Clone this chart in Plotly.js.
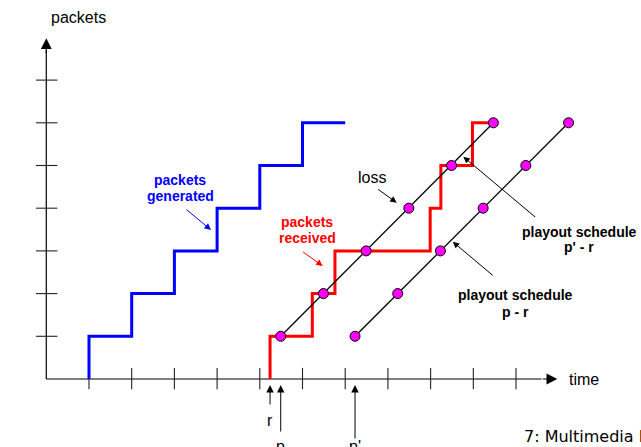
<!DOCTYPE html>
<html><head><meta charset="utf-8">
<script src="https://cdn.plot.ly/plotly-3.0.1.min.js"></script>
<style>html,body{margin:0;padding:0;background:#fff;overflow:hidden}#chart{width:641px;height:447px}</style>
</head><body><div id="chart"></div>
<script>
// ---- data ----
const packetCounts = [0, 1, 2, 3, 4, 5, 6];
const genTimes = [1, 2, 3, 4, 5, 6, 7];
const recvTimes = [5.24, 6.23, 6.76, 8.99, 9.24, 9.98, 10.47];
const playoutPackets = [1, 2, 3, 4, 5, 6];
const playoutP = [5.49, 6.49, 7.49, 8.49, 9.49, 10.47];
const playoutP2 = [7.23, 8.23, 9.23, 10.23, 11.23, 12.23];
const xTickVals = [1, 2, 3, 4, 5, 6, 7, 8, 9, 10, 11];
const yTickVals = [1, 2, 3, 4, 5, 6, 7];

// ---- helpers ----
const W = 641, H = 447;
const PX = v => v / W;
const PY = v => 1 - v / H;
const FONT = 'Liberation Sans, Arial, sans-serif';

const xt = {x: [], y: []};
xTickVals.forEach(v => { xt.x.push(v, v, null); xt.y.push(-0.24, 0.26, null); });
const yt = {x: [], y: []};
yTickVals.forEach(v => { yt.x.push(-0.24, 0.26, null); yt.y.push(v, v, null); });

const traces = [
  {x: [0, 11.6], y: [0, 0], mode: 'lines', line: {color: '#555', width: 1.4}, hoverinfo: 'skip'},
  {x: [0, 0], y: [0, 7.7], mode: 'lines', line: {color: '#000', width: 1.2}, hoverinfo: 'skip'},
  {x: xt.x, y: xt.y, mode: 'lines', line: {color: '#222', width: 1.1}, hoverinfo: 'skip'},
  {x: yt.x, y: yt.y, mode: 'lines', line: {color: '#222', width: 1.1}, hoverinfo: 'skip'},
  {x: genTimes, y: packetCounts, mode: 'lines', line: {color: '#0000ff', width: 3, shape: 'vh'}},
  {x: recvTimes, y: packetCounts, mode: 'lines', line: {color: '#ff0000', width: 3, shape: 'vh'}},
  {x: playoutP, y: playoutPackets, mode: 'lines+markers', line: {color: '#000', width: 1.3},
   marker: {size: 10, color: '#ff00ff', line: {color: '#000', width: 1}}},
  {x: playoutP2, y: playoutPackets, mode: 'lines+markers', line: {color: '#000', width: 1.3},
   marker: {size: 10, color: '#ff00ff', line: {color: '#000', width: 1}}}
];

function txt(text, x, y, opts) {
  return Object.assign({text: text, x: PX(x), y: PY(y), xref: 'paper', yref: 'paper',
    showarrow: false, xanchor: 'center', yanchor: 'middle',
    font: {family: FONT, size: 16, color: '#000'}}, opts || {});
}
function dataTxt(text, xv, y) {
  return {text: text, x: xv, y: PY(y), xref: 'x', yref: 'paper', showarrow: false,
    xanchor: 'center', yanchor: 'middle', font: {family: FONT, size: 16, color: '#000'}};
}
function arr(hx, hy, ax, ay, color, size, width) {
  return {text: '', x: PX(hx), y: PY(hy), xref: 'paper', yref: 'paper', showarrow: true,
    ax: ax, ay: ay, arrowhead: 2, arrowsize: size || 1.3, arrowwidth: width || 1,
    arrowcolor: color || '#000'};
}
function dataArr(xv, hy, ay) {
  return {text: '', x: xv, y: PY(hy), xref: 'x', yref: 'paper', showarrow: true,
    ax: 0, ay: ay, arrowhead: 2, arrowsize: 1.5, arrowwidth: 1, arrowcolor: '#000'};
}
const bold = c => ({family: FONT, size: 14, color: c, weight: 'bold'});

const annotations = [
  txt('packets', 78, 17),
  txt('time', 567, 379, {xanchor: 'left'}),
  txt('loss', 371.5, 177),
  txt('<b>packets</b>', 180, 180, {font: bold('#0000ff')}),
  txt('<b>generated</b>', 180, 196, {font: bold('#0000ff')}),
  txt('<b>packets</b>', 307, 222, {font: bold('#ff0000')}),
  txt('<b>received</b>', 307, 238, {font: bold('#ff0000')}),
  txt('<b>playout schedule</b>', 579, 231.5, {font: bold('#000')}),
  txt("<b>p' - r</b>", 579, 247, {font: bold('#000')}),
  txt('<b>playout schedule</b>', 515, 294.5, {font: bold('#000')}),
  txt('<b>p - r</b>', 515, 311.5, {font: bold('#000')}),
  dataTxt('r', recvTimes[0], 420.5),
  dataTxt('p', playoutP[0], 446),
  dataTxt("p'", playoutP2[0], 446),
  txt('7: Multimedia Networking', 521.5, 436.5, {xanchor: 'left',
   font: {family: 'DejaVu Sans, sans-serif', size: 16, color: '#000'}}),
  // arrows
  arr(557.3, 379, -16, 0, '#000', 1.8, 1.2),
  arr(46.3, 38.3, 0, 16, '#000', 1.8, 1.2),
  arr(211, 230, -26, -21.7, '#0000ff', 1.3),
  arr(322.7, 266, -21, -15, '#ff0000', 1.3),
  arr(396.7, 202.7, -20, -14.4, '#000', 1.3),
  arr(463.3, 156.7, 73.4, 61.6, '#000', 1.3),
  arr(452.7, 241.7, 41.6, 35, '#000', 1.3),
  dataArr(recvTimes[0], 385, 21),
  dataArr(playoutP[0], 385, 48),
  dataArr(playoutP2[0], 385, 55)
];

const layout = {
  width: W, height: H,
  margin: {l: 0, r: 0, t: 0, b: 0},
  paper_bgcolor: '#fff', plot_bgcolor: '#fff',
  showlegend: false,
  xaxis: {range: [-1.084, 13.927], visible: false, fixedrange: true},
  yaxis: {range: [-1.593, 8.876], visible: false, fixedrange: true},
  annotations: annotations
};
Plotly.newPlot('chart', traces, layout, {displayModeBar: false, staticPlot: true});
</script></body></html>
